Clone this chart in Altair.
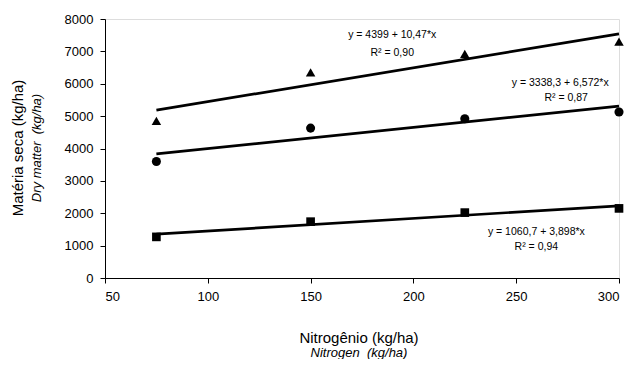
import altair as alt
import pandas as pd

# Data
nitrogen = [75, 150, 225, 300]
series = ["top", "mid", "low"]
shapes = ["triangle-up", "circle", "square"]
marker_sizes = [90, 75, 80]
y_top = [4850, 6350, 6920, 7300]
y_mid = [3600, 4630, 4920, 5130]
y_low = [1270, 1740, 2020, 2150]
intercepts = [4399, 3338.3, 1060.7]
slopes = [10.47, 6.572, 3.898]
eq_labels = ["y = 4399 + 10,47*x", "y = 3338,3 + 6,572*x", "y = 1060,7 + 3,898*x"]
r2_labels = ["R² = 0,90", "R² = 0,87", "R² = 0,94"]
eq_x = [189.7, 271.4, 259.8]
eq_y = [7505, 6020, 1413]
r2_x = [189.7, 274.3, 259.8]
r2_y = [6939, 5557, 949]
x_ticks = [50, 100, 150, 200, 250, 300]
y_ticks = [0, 1000, 2000, 3000, 4000, 5000, 6000, 7000, 8000]

pts = []
for s, ys in zip(series, [y_top, y_mid, y_low]):
    for xv, yv in zip(nitrogen, ys):
        pts.append({"series": s, "x": xv, "y": yv})
pts = pd.DataFrame(pts)

lines = []
for s, a, b in zip(series, intercepts, slopes):
    for xv in [nitrogen[0], nitrogen[-1]]:
        lines.append({"series": s, "x": xv, "a": a, "b": b})
lines = pd.DataFrame(lines)

ann = pd.DataFrame({"x": eq_x + r2_x, "y": eq_y + r2_y, "t": eq_labels + r2_labels})

W, H = 514, 259
FONT = "Liberation Sans"

xs = alt.Scale(domain=[50, 300], nice=False, zero=False)
ys = alt.Scale(domain=[0, 8000], nice=False)

xaxis = alt.Axis(values=x_ticks, title=None, grid=False, format="d",
                 domainColor="black", tickColor="black", tickSize=5, labelOverlap=False,
                 labelFont=FONT, labelFontSize=13, labelColor="black", labelPadding=7)
yaxis = alt.Axis(values=y_ticks, title=None, grid=False, format="d",
                 domainColor="black", tickColor="black", tickSize=5, labelOverlap=False,
                 labelFont=FONT, labelFontSize=13, labelColor="black", labelPadding=7)

X = lambda f: alt.X(f, scale=xs, axis=xaxis)
Y = lambda f: alt.Y(f, scale=ys, axis=yaxis)

base_pts = alt.Chart(pts).mark_point(filled=True, color="black", opacity=1).encode(
    x=X("x:Q"),
    y=Y("y:Q"),
    shape=alt.Shape("series:N", scale=alt.Scale(domain=series, range=shapes), legend=None),
    size=alt.Size("series:N", scale=alt.Scale(domain=series, range=marker_sizes), legend=None),
)

reg = alt.Chart(lines).transform_calculate(
    yy="datum.a + datum.b * datum.x"
).mark_line(color="black", strokeWidth=2.7).encode(
    x=X("x:Q"),
    y=Y("yy:Q"),
    detail="series:N",
)

text = alt.Chart(ann).mark_text(font=FONT, fontSize=10.5, color="black").encode(
    x=X("x:Q"),
    y=Y("y:Q"),
    text="t:N",
)

titles = pd.DataFrame({
    "t": ["Matéria seca (kg/ha)", "Dry matter\u00a0 (kg/ha)", "Nitrogênio (kg/ha)", "Nitrogen\u00a0 (kg/ha)"],
})

ytitle1 = alt.Chart(titles.iloc[[0]]).mark_text(font=FONT, fontSize=15, angle=270, color="black").encode(
    x=alt.value(-87), y=alt.value(129), text="t:N")
ytitle2 = alt.Chart(titles.iloc[[1]]).mark_text(font=FONT, fontSize=13, fontStyle="italic", angle=270, color="black").encode(
    x=alt.value(-68), y=alt.value(129), text="t:N")
xtitle1 = alt.Chart(titles.iloc[[2]]).mark_text(font=FONT, fontSize=15, color="black").encode(
    x=alt.value(254), y=alt.value(319), text="t:N")
xtitle2 = alt.Chart(titles.iloc[[3]]).mark_text(font=FONT, fontSize=13, fontStyle="italic", color="black").encode(
    x=alt.value(254), y=alt.value(334), text="t:N")

chart = alt.layer(reg, base_pts, text, ytitle1, ytitle2, xtitle1, xtitle2).properties(
    width=W, height=H,
    autosize=alt.AutoSizeParams(type="none"),
    padding={"left": 97, "top": 11, "right": 7, "bottom": 81},
).configure_view(stroke=None).configure(background="white")

chart.save("out.html", embed_options={"renderer": "svg", "actions": False})
